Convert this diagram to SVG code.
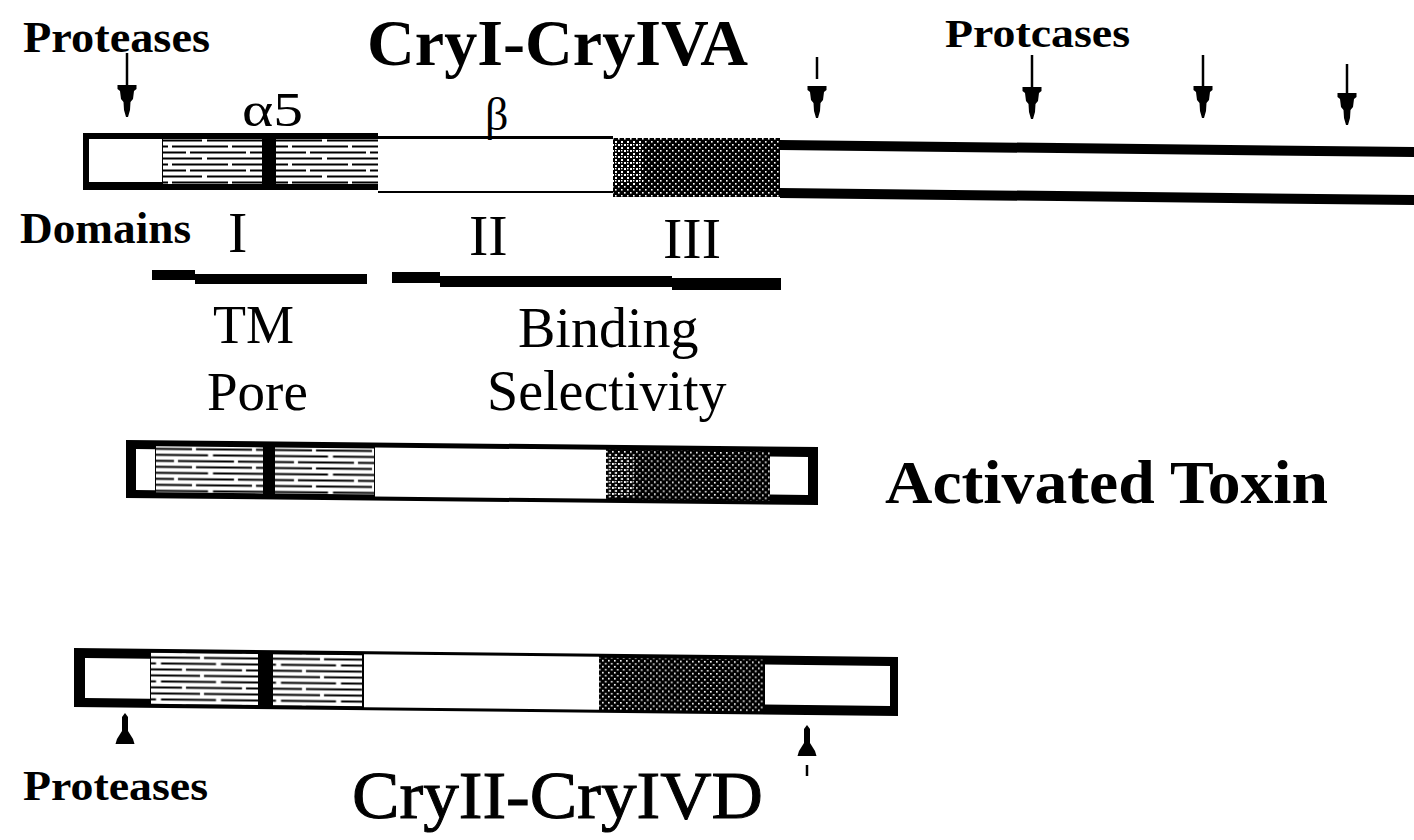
<svg xmlns="http://www.w3.org/2000/svg" width="1414" height="840" viewBox="0 0 1414 840">
<style>
  .b{font-family:"Liberation Serif","Times New Roman",serif;font-weight:bold;fill:#000}
  .r{font-family:"Liberation Serif","Times New Roman",serif;font-weight:normal;fill:#000}
  .rm{font-family:"Liberation Serif","Times New Roman",serif;font-weight:normal;fill:#000;stroke:#000;stroke-width:1}
  .blk{fill:#000}
  .wht{fill:#fff}
  .str{fill:url(#stripe)}
  .stp{fill:url(#stip)}
  .stl{fill:url(#stip2)}
</style>
<defs>
  <pattern id="stripe" patternUnits="userSpaceOnUse" width="60" height="18">
    <rect width="60" height="18" fill="#fff"/>
    <rect x="0" y="1.5" width="48" height="2" fill="#000"/>
    <rect x="52" y="1.5" width="8" height="2" fill="#000"/>
    <rect x="10" y="7.5" width="50" height="2" fill="#000"/>
    <rect x="0" y="7.5" width="6" height="2" fill="#000"/>
    <rect x="0" y="13.5" width="22" height="2" fill="#000"/>
    <rect x="27" y="13.5" width="33" height="2" fill="#000"/>
  </pattern>
  <pattern id="stip" patternUnits="userSpaceOnUse" width="6" height="6">
    <rect width="6" height="6" fill="#000"/>
    <rect x="0" y="0" width="1.6" height="1.6" fill="#fff"/>
    <rect x="3" y="3" width="1.6" height="1.6" fill="#fff"/>
  </pattern>
  <pattern id="stip2" patternUnits="userSpaceOnUse" width="6" height="6">
    <rect width="6" height="6" fill="#000"/>
    <rect x="0" y="0" width="2" height="2" fill="#fff"/>
    <rect x="3" y="3" width="2" height="2" fill="#fff"/>
    <rect x="3" y="0" width="1.4" height="1.4" fill="#fff"/>
  </pattern>
  <path id="down" d="M-9.5,0 L9.5,0 L9.5,4 L7,6 L6,14 L3.5,17 L3,25 L1,32 L-1,32 L-3,25 L-3.5,17 L-6,14 L-7,6 L-9.5,4 Z"/>
  <path id="up" d="M0,0 L3,4 L3,18 L8,26 L9.5,31 L-9.5,31 L-8,26 L-3,18 L-3,4 Z"/>
</defs>

<g id="bar-cryI">
  <rect class="blk" x="83" y="133" width="295" height="57"/>
  <rect class="wht" x="89" y="139" width="73" height="43"/>
  <rect class="str" x="163" y="139" width="99" height="45"/>
  <rect class="str" x="276" y="139" width="102" height="45"/>
  <rect class="blk" x="378" y="136" width="235" height="57"/>
  <rect class="wht" x="378" y="139" width="235" height="52"/>
  <rect class="stp" x="613" y="138" width="167" height="59"/>
  <rect class="stl" x="613" y="141" width="30" height="45"/>
  <polygon class="blk" points="780,140 1414,147 1414,157 780,150"/>
  <polygon class="blk" points="780,188 1414,195 1414,205 780,198"/>
</g>

<g id="bar-activated" transform="translate(126,440) skewY(0.58)">
  <rect class="blk" x="0" y="0" width="692" height="58"/>
  <rect class="wht" x="10" y="9" width="19" height="41"/>
  <rect class="str" x="30" y="6" width="107" height="46"/>
  <rect class="str" x="149" y="6" width="99" height="46"/>
  <rect class="wht" x="249" y="5" width="231" height="49"/>
  <rect class="stp" x="480" y="5" width="164" height="49"/>
  <rect class="stl" x="480" y="8" width="28" height="44"/>
  <rect class="wht" x="644" y="10" width="38" height="38"/>
</g>

<g id="bar-cryII" transform="translate(74,648) skewY(0.63)">
  <rect class="blk" x="0" y="0" width="824" height="59"/>
  <rect class="wht" x="11" y="10" width="65" height="40"/>
  <rect class="str" x="77" y="4" width="107" height="51"/>
  <rect class="str" x="199" y="4" width="89" height="51"/>
  <rect class="wht" x="290" y="3" width="235" height="53"/>
  <rect class="stp" x="525" y="4" width="164" height="52"/>
  <rect class="wht" x="691" y="9" width="125" height="40"/>
</g>

<g id="domain-lines">
  <polygon class="blk" points="152,270 195,270 195,274 367,274 367,284 195,284 195,280 152,280"/>
  <polygon class="blk" points="392,272 440,272 440,276 672,276 672,278 781,278 781,290 672,290 672,287 440,287 440,283 392,283"/>
</g>

<g id="labels">
  <text class="b" x="23" y="52" font-size="44" textLength="187" lengthAdjust="spacingAndGlyphs">Proteases</text>
  <text class="b" x="367" y="65" font-size="66" textLength="381" lengthAdjust="spacingAndGlyphs">CryI-CryIVA</text>
  <text class="b" x="945" y="47" font-size="41" textLength="185" lengthAdjust="spacingAndGlyphs">Protcases</text>
  <text class="r" x="242" y="126" font-size="48" textLength="61" lengthAdjust="spacingAndGlyphs">α5</text>
  <text class="r" x="485" y="130" font-size="46">β</text>
  <text class="b" x="20" y="243" font-size="44" textLength="171" lengthAdjust="spacingAndGlyphs">Domains</text>
  <text class="r" x="228" y="252" font-size="58">I</text>
  <text class="r" x="469" y="255" font-size="58">II</text>
  <text class="r" x="663" y="258" font-size="58">III</text>
  <text class="r" x="213" y="343" font-size="54">TM</text>
  <text class="r" x="207" y="410" font-size="55">Pore</text>
  <text class="r" x="518" y="347" font-size="56">Binding</text>
  <text class="r" x="487" y="410" font-size="56">Selectivity</text>
  <text class="b" x="885" y="503" font-size="62" textLength="443" lengthAdjust="spacingAndGlyphs">Activated Toxin</text>
  <text class="b" x="23" y="800" font-size="42" textLength="185" lengthAdjust="spacingAndGlyphs">Proteases</text>
  <text class="rm" x="352" y="818" font-size="68" textLength="411" lengthAdjust="spacingAndGlyphs">CryII-CryIVD</text>
</g>

<g id="connectors" stroke="#000" stroke-width="2.5">
  <line x1="127" y1="53" x2="127" y2="86"/>
  <use href="#down" x="127" y="85" stroke="none"/>
  <line x1="817" y1="57" x2="817" y2="79"/>
  <use href="#down" x="817" y="86" stroke="none"/>
  <line x1="1032" y1="55" x2="1032" y2="89"/>
  <use href="#down" x="1032" y="87" stroke="none"/>
  <line x1="1203" y1="55" x2="1203" y2="88"/>
  <use href="#down" x="1203" y="86" stroke="none"/>
  <line x1="1347" y1="64" x2="1347" y2="94"/>
  <use href="#down" x="1347" y="93" stroke="none"/>
  <use href="#up" x="125" y="713" stroke="none"/>
  <use href="#up" x="807" y="725" stroke="none"/>
  <line x1="807" y1="765" x2="807" y2="776"/>
</g>
</svg>
